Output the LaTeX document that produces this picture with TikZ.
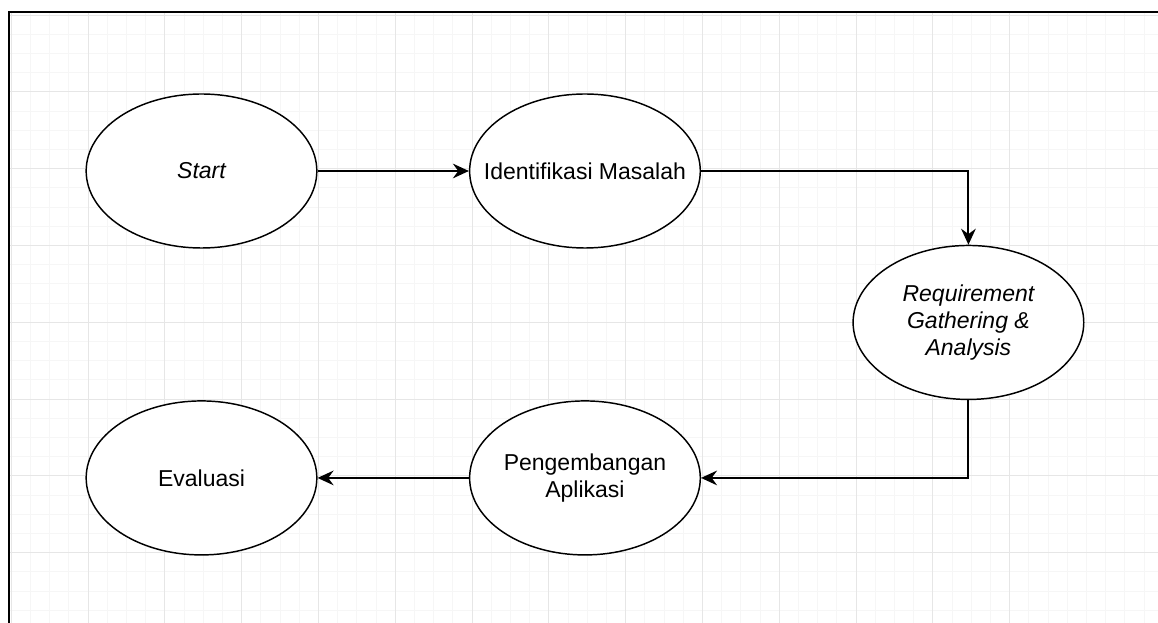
\documentclass[tikz,border=0pt]{standalone}
\usepackage{fontspec}
\setmainfont{Liberation Sans}
\usetikzlibrary{shapes.geometric, positioning, arrows.meta}
\definecolor{gridminor}{RGB}{246,246,246}
\definecolor{gridmajor}{RGB}{230,230,230}
\tikzset{
x=0.75pt, y=-0.75pt, % one unit is one pixel of the screenshot
>={Stealth[length=12pt, width=11pt, inset=4pt]}, % filled arrow heads
on grid, % distances are taken from centre to centre
stage/.style={ellipse, draw=black, line width=1.1pt, fill=white, minimum width=173pt, minimum height=115.5pt, inner sep=0pt, align=center, font=\fontsize{17.25pt}{20.5pt}\selectfont}, % every step of the flow
wide/.style={inner xsep=-16pt}, % keeps long labels inside the same ellipse size
flow/.style={->, line width=1.5pt}, % the connectors
minorgrid/.style={draw=gridminor, line width=0.75pt},
majorgrid/.style={draw=gridmajor, line width=0.75pt}
}

\begin{document}
\begin{tikzpicture}
      \useasboundingbox (0,0) rectangle (1158,623);
      % background grid
      \foreach \i in {0,...,59} \draw[minorgrid] ({11.2+19.2*\i},12) -- ({11.2+19.2*\i},623);
      \foreach \j in {0,...,31} \draw[minorgrid] (9,{15.2+19.2*\j}) -- (1158,{15.2+19.2*\j});
      \foreach \i in {0,...,13} \draw[majorgrid] ({11.2+76.8*\i},12) -- ({11.2+76.8*\i},623);
      \foreach \j in {0,...,7} \draw[majorgrid] (9,{15.2+76.8*\j}) -- (1158,{15.2+76.8*\j});
      \draw[line width=1.5pt] (9,623) -- (9,12.5) -- (1158,12.5);

      \node[stage] (start) at (201.5,171) {\itshape Start};
      \node[stage, wide, right=287.6pt of start] (ident) {Identifikasi Masalah};
      \node[stage, below right=113.6pt and 287.6pt of ident] (req) {\itshape Requirement\\\itshape Gathering \&\\\itshape Analysis};
      \node[stage, below left=116.6pt and 287.6pt of req] (peng) {Pengembangan\\Aplikasi};
      \node[stage, left=287.6pt of peng] (eval) {Evaluasi};

      \draw[flow] (start) -- (ident);
      \draw[flow] (ident.east) -| (req.north);
      \draw[flow] (req.south) |- (peng.east);
      \draw[flow] (peng) -- (eval);
\end{tikzpicture}
\end{document}
